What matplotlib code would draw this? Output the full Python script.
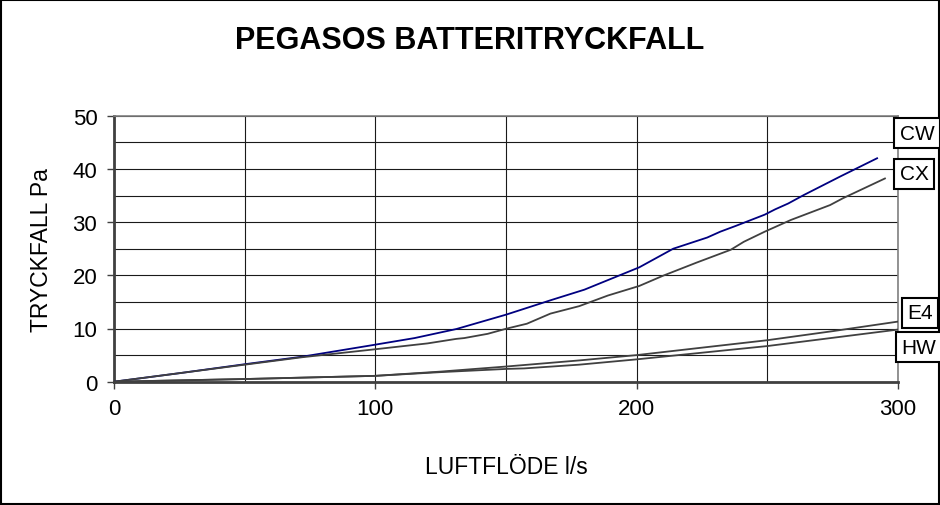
import matplotlib.pyplot as plt
from matplotlib.patches import Rectangle
from matplotlib.ticker import MultipleLocator

plt.rcParams['font.family'] = ['Liberation Sans', 'DejaVu Sans']

# luftflöde l/s vs tryckfall Pa
cw_x = [0, 25, 51, 72, 98, 115, 131, 150, 167, 180, 191, 201, 214, 227, 232, 238, 249, 253, 258, 264, 278, 292]
cw_y = [0, 1.6, 3.35, 4.7, 6.8, 8.2, 9.9, 12.6, 15.3, 17.3, 19.5, 21.5, 25.0, 27.1, 28.2, 29.3, 31.4, 32.4, 33.5, 35.1, 38.6, 42.0]

cx_x = [0, 25, 50, 72, 100, 120, 131, 134, 143, 150, 158, 167, 178, 189, 201, 210, 223, 236, 241, 249, 259, 274, 279, 295]
cx_y = [0, 1.6, 3.2, 4.6, 6.1, 7.2, 8.05, 8.2, 9.0, 9.95, 10.9, 12.8, 14.2, 16.2, 18.0, 19.9, 22.4, 24.8, 26.3, 28.2, 30.4, 33.2, 34.5, 38.2]

e4_x = [0, 50, 100, 125, 150, 178, 200, 225, 250, 275, 300]
e4_y = [0, 0.5, 1.1, 1.9, 2.85, 4.0, 5.0, 6.4, 7.8, 9.5, 11.3]

hw_x = [0, 50, 100, 125, 150, 157, 178, 200, 250, 300]
hw_y = [0, 0.5, 1.1, 1.8, 2.4, 2.5, 3.2, 4.2, 6.7, 9.8]

labels = ['CW', 'CX', 'E4', 'HW']
label_pos = [(917, 134), (914, 175), (920, 314), (919, 348)]  # pixel centres

W, H = 940, 506
fig = plt.figure(figsize=(W / 100, H / 100), dpi=100)
ax = fig.add_axes([114 / W, 1 - 382.7 / H, (898 - 114) / W, (382.7 - 116.7) / H])

ax.plot(cw_x, cw_y, color='#000080', lw=1.3, zorder=3)
ax.plot(cx_x, cx_y, color='#404040', lw=1.3, zorder=3)
ax.plot(e4_x, e4_y, color='#404040', lw=1.3, zorder=3)
ax.plot(hw_x, hw_y, color='#404040', lw=1.3, zorder=3)

ax.set_xlim(0, 300)
ax.set_ylim(0, 50)
ax.xaxis.set_major_locator(MultipleLocator(100))
ax.xaxis.set_minor_locator(MultipleLocator(50))
ax.yaxis.set_major_locator(MultipleLocator(10))
ax.yaxis.set_minor_locator(MultipleLocator(5))
ax.grid(which='both', color='#1a1a1a', lw=0.8)
ax.set_axisbelow(True)
ax.tick_params(axis='both', which='major', length=5, width=1, color='#404040',
               labelsize=16, pad=7)
ax.tick_params(axis='both', which='minor', length=0)

for s in ['left', 'bottom']:
    ax.spines[s].set_color('#404040')
    ax.spines[s].set_linewidth(2)
for s in ['top', 'right']:
    ax.spines[s].set_color('#808080')
    ax.spines[s].set_linewidth(1.2)

ax.set_xlabel('LUFTFLÖDE l/s', fontsize=16.5, labelpad=26)
ax.set_ylabel('TRYCKFALL Pa', fontsize=16.5, labelpad=14)

fig.text(470 / W, 1 - 41 / H, 'PEGASOS BATTERITRYCKFALL', fontsize=22,
         fontweight='bold', ha='center', va='center')

for lab, (px, py) in zip(labels, label_pos):
    fig.text(px / W, 1 - py / H, lab, fontsize=15, ha='center', va='center',
             bbox=dict(boxstyle='square,pad=0.25', fc='white', ec='black', lw=1.5))

fig.patches.append(Rectangle((0.001, 0.001), 0.998, 0.997, transform=fig.transFigure,
                             fill=False, ec='black', lw=1.5))

fig.savefig('out.png', dpi=100)
